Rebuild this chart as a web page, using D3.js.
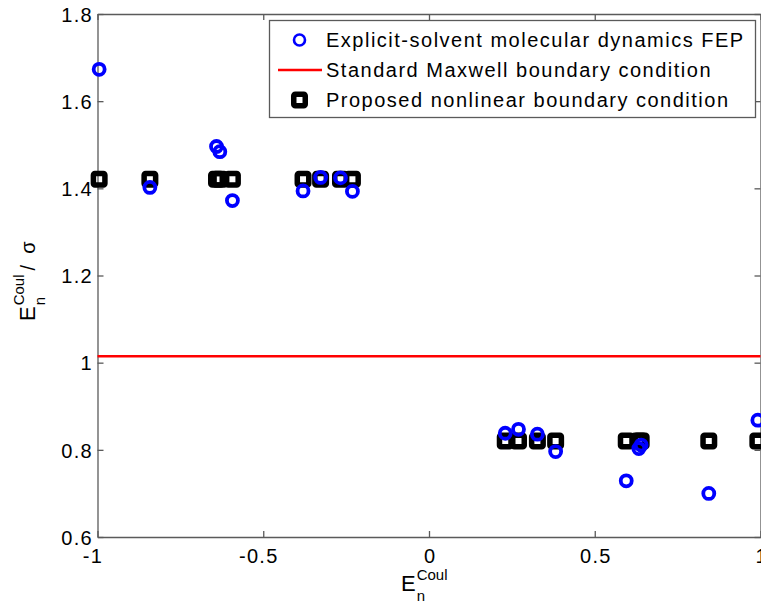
<!DOCTYPE html>
<html>
<head>
<meta charset="utf-8">
<script src="https://cdn.jsdelivr.net/npm/d3@7"></script>
<style>
    body { margin: 0; background: #fff; }
    svg { display: block; font-family: "Liberation Sans", Arial, sans-serif; }
</style>
</head>
<body>
<script>
"use strict";

// ion charge state (x) shared by both marker series
var ionCharge = [-0.995, -0.842, -0.641, -0.631, -0.593, -0.380, -0.327, -0.267, -0.231,
    0.230, 0.270, 0.327, 0.382, 0.595, 0.633, 0.640, 0.844, 0.992];
var fepValues = [1.673, 1.402, 1.496, 1.484, 1.372, 1.394, 1.425, 1.424, 1.393,
    0.838, 0.847, 0.836, 0.796, 0.729, 0.803, 0.811, 0.700, 0.868];
var nonlinearValues = [1.421, 1.421, 1.421, 1.421, 1.421, 1.421, 1.421, 1.421, 1.421,
    0.820, 0.820, 0.820, 0.820, 0.820, 0.820, 0.820, 0.820, 0.820];
var maxwellValue = 1.015;

var xTicks = [-1, -0.5, 0, 0.5, 1];
var yTicks = [0.6, 0.8, 1, 1.2, 1.4, 1.6, 1.8];
var legendLabels = ["Explicit-solvent molecular dynamics FEP",
    "Standard Maxwell boundary condition",
    "Proposed nonlinear boundary condition"];

function init() {
    var w = 761;
    var h = 604;
    var left = 97.5, right = 760.5, top = 14, bottom = 537;

    var svg = d3.select("body")
        .append("svg")
        .attr("width", w)
        .attr("height", h);

    var xScale = d3.scaleLinear().domain([-1, 1]).range([left, right]);
    var yScale = d3.scaleLinear().domain([0.6, 1.8]).range([bottom, top]);

    var fmt = function (d) { return String(d); };
    var axisColor = "#5a5a5a";

    //Axes, ticks point inward
    var gx = svg.append("g")
        .attr("transform", "translate(0," + bottom + ")")
        .call(d3.axisBottom(xScale).tickValues(xTicks).tickFormat(fmt)
            .tickSizeInner(-6).tickSizeOuter(0).tickPadding(12));
    var gxTop = svg.append("g")
        .attr("transform", "translate(0," + top + ")")
        .call(d3.axisTop(xScale).tickValues(xTicks).tickFormat("")
            .tickSizeInner(-6).tickSizeOuter(0));
    var gy = svg.append("g")
        .attr("transform", "translate(" + left + ",0)")
        .call(d3.axisLeft(yScale).tickValues(yTicks).tickFormat(fmt)
            .tickSizeInner(-6).tickSizeOuter(0).tickPadding(4.5));
    var gyRight = svg.append("g")
        .attr("transform", "translate(" + right + ",0)")
        .call(d3.axisRight(yScale).tickValues(yTicks).tickFormat("")
            .tickSizeInner(-6).tickSizeOuter(0));

    [gx, gxTop, gy, gyRight].forEach(function (g) {
        g.selectAll("path, line").attr("stroke", axisColor).attr("stroke-width", 1.3);
        g.selectAll("text").attr("fill", "#000").attr("font-size", 20)
            .attr("letter-spacing", 1.3)
            .attr("font-family", "Liberation Sans, Arial, sans-serif");
    });
    // the minus sign in the source sits a bit left of the tick
    gx.selectAll("text").attr("dx", function (d) { return d < 0 ? -5 : 0.6; });
    gy.selectAll("text").attr("dy", "0.36em");

    //Maxwell boundary condition line
    svg.append("line")
        .attr("x1", xScale(-1))
        .attr("x2", xScale(1))
        .attr("y1", yScale(maxwellValue))
        .attr("y2", yScale(maxwellValue))
        .attr("stroke", "#ff0000")
        .attr("stroke-width", 2.5);

    //Nonlinear boundary condition squares
    var sq = 11.5;
    svg.selectAll("rect.nonlin")
        .data(ionCharge)
        .enter()
        .append("rect")
        .attr("class", "nonlin")
        .attr("x", function (d) { return xScale(d) - sq / 2; })
        .attr("y", function (d, i) { return yScale(nonlinearValues[i]) - sq / 2; })
        .attr("width", sq)
        .attr("height", sq)
        .attr("rx", 1.5)
        .attr("fill", "none")
        .attr("stroke", "#000")
        .attr("stroke-width", 5.5);

    //FEP circles
    svg.selectAll("circle.fep")
        .data(ionCharge)
        .enter()
        .append("circle")
        .attr("class", "fep")
        .attr("cx", function (d) { return xScale(d); })
        .attr("cy", function (d, i) { return yScale(fepValues[i]); })
        .attr("r", 5.5)
        .attr("fill", "none")
        .attr("stroke", "#0000ff")
        .attr("stroke-width", 3.8);

    //Legend
    var legend = svg.append("g");
    legend.append("rect")
        .attr("x", 269.5).attr("y", 20.5)
        .attr("width", 486).attr("height", 97)
        .attr("fill", "#fff")
        .attr("stroke", axisColor)
        .attr("stroke-width", 1.3);
    var rowY = [40, 70, 100];
    legend.append("circle")
        .attr("cx", 299.5).attr("cy", rowY[0]).attr("r", 5.5)
        .attr("fill", "none").attr("stroke", "#0000ff").attr("stroke-width", 2.6);
    legend.append("line")
        .attr("x1", 278).attr("x2", 322).attr("y1", rowY[1]).attr("y2", rowY[1])
        .attr("stroke", "#ff0000").attr("stroke-width", 2.5);
    legend.append("rect")
        .attr("x", 299.5 - sq / 2).attr("y", rowY[2] - sq / 2)
        .attr("width", sq).attr("height", sq).attr("rx", 1.5)
        .attr("fill", "none").attr("stroke", "#000").attr("stroke-width", 5.5);
    legend.selectAll("text")
        .data(legendLabels)
        .enter()
        .append("text")
        .attr("x", 326)
        .attr("y", function (d, i) { return rowY[i]; })
        .attr("dy", "0.36em")
        .attr("font-size", 20)
        .attr("letter-spacing", 1.5)
        .text(function (d) { return d; });

    //Axis labels E_n^Coul
    function energyLabel(g, tail) {
        var e = g.append("text").attr("font-size", 22).text("E");
        var ew = e.node().getComputedTextLength() + 1;
        g.append("text").attr("x", ew).attr("y", 10).attr("font-size", 15).text("n");
        var c = g.append("text").attr("x", ew).attr("y", -11).attr("font-size", 15).text("Coul");
        if (tail) {
            var cw = c.node().getComputedTextLength();
            g.append("text").attr("x", ew + cw + 4).attr("font-size", 20)
                .attr("xml:space", "preserve").text("/  \u03c3");
        }
    }
    energyLabel(svg.append("g").attr("transform", "translate(401,591)"));
    energyLabel(svg.append("g").attr("transform", "translate(35,321) rotate(-90)"), true);
}

window.onload = init;
</script>
</body>
</html>
